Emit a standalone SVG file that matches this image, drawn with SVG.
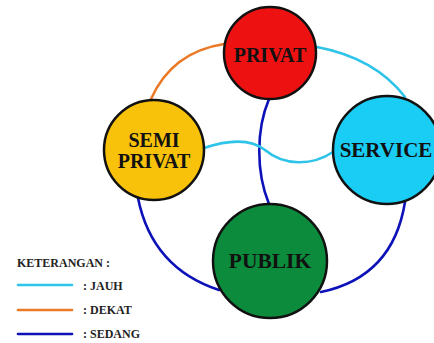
<svg xmlns="http://www.w3.org/2000/svg" width="434" height="343" viewBox="0 0 434 343">
<style>
.node{stroke:#111;stroke-width:2.5}
.lbl{font-family:"Liberation Serif","Times New Roman",serif;font-weight:bold;fill:#111;text-anchor:middle}
.leg{font-family:"Liberation Serif","Times New Roman",serif;font-weight:bold;fill:#222;font-size:12px}
.c{fill:none;stroke-width:2.6;stroke-linecap:round}
.jauh{stroke:#2ec3e8}
.dekat{stroke:#ea7a27}
.sedang{stroke:#0d12b8}
</style>
<rect width="434" height="343" fill="#fff"/>
<g id="connectors">
<path class="c dekat" d="M151,99 Q172,52 224,44"/>
<path class="c jauh" d="M317,47 Q375,58 405,97"/>
<path class="c sedang" d="M138,198 Q152,268 219,290"/>
<path class="c sedang" d="M321,292 Q393,277 405,202"/>
<path class="c sedang" d="M269,99 C256,130 256,172 269,204"/>
<path class="c jauh" d="M204,148 C228,140 250,138 265,150 C284,166 312,166 333,152"/>
</g>
<g id="privat">
<circle class="node" cx="270" cy="53" r="46" fill="#ee1111"/>
<text class="lbl" x="270" y="62" font-size="20">PRIVAT</text>
</g>
<g id="semi-privat">
<circle class="node" cx="154" cy="150" r="50" fill="#f8c10a"/>
<text class="lbl" x="154" y="147" font-size="20">SEMI</text>
<text class="lbl" x="154" y="168" font-size="20">PRIVAT</text>
</g>
<g id="service">
<circle class="node" cx="387" cy="150" r="54" fill="#19cdf5"/>
<text class="lbl" x="386" y="157" font-size="21">SERVICE</text>
</g>
<g id="publik">
<circle class="node" cx="270" cy="261" r="57" fill="#0b8b3b"/>
<text class="lbl" x="270" y="268" font-size="21.5">PUBLIK</text>
</g>
<g id="legend">
<text class="leg" x="17" y="267" font-size="11.5">KETERANGAN :</text>
<line class="c jauh" x1="18" y1="285" x2="72" y2="285" stroke-width="3.5"/>
<line class="c dekat" x1="18" y1="310" x2="72" y2="310" stroke-width="3.5"/>
<line class="c sedang" x1="18" y1="334" x2="72" y2="334" stroke-width="3.5"/>
<text class="leg" x="83" y="290">: JAUH</text>
<text class="leg" x="83" y="314">: DEKAT</text>
<text class="leg" x="83" y="338">: SEDANG</text>
</g>
</svg>
